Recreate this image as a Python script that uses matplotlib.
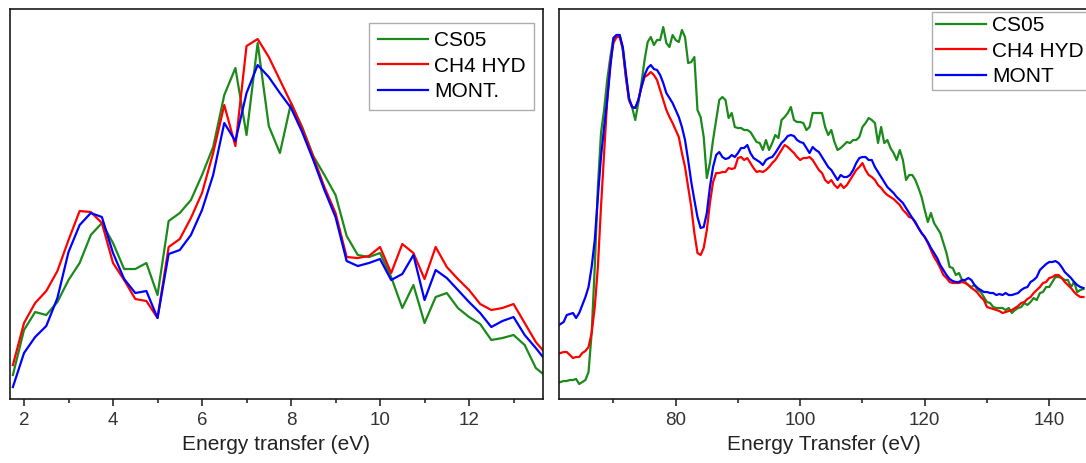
import matplotlib
matplotlib.use('Agg')
import matplotlib.pyplot as plt
import numpy as np
from matplotlib.ticker import MultipleLocator

plt.rcParams['font.family'] = ['Liberation Sans', 'DejaVu Sans']

# ---- left panel: low energy region, 0.25 eV steps ----
e_low = np.arange(1.75, 13.76, 0.25)
cs05_low = [24, 69, 87, 84, 97, 119, 136, 164, 176, 156,
            130, 130, 136, 104, 178, 186, 199, 224, 252, 304,
            331, 264, 356, 273, 246, 296, 272, 243, 224, 204,
            163, 144, 142, 146, 122, 91, 114, 76, 102, 106,
            91, 82, 75, 59, 61, 64, 54, 31, 22]
ch4_low = [34, 76, 96, 108, 128, 159, 188, 187, 176, 136,
           119, 100, 98, 81, 152, 160, 181, 206, 246, 294,
           253, 353, 360, 342, 319, 296, 271, 242, 212, 186,
           142, 141, 143, 152, 126, 155, 146, 120, 152, 132,
           120, 109, 95, 89, 91, 95, 76, 57, 44]
mont_low = [12, 46, 62, 73, 101, 147, 174, 186, 182, 146,
            120, 106, 108, 81, 145, 149, 164, 189, 224, 276,
            258, 306, 334, 322, 306, 291, 267, 239, 209, 182,
            138, 133, 136, 140, 119, 125, 144, 99, 129, 121,
            109, 97, 86, 72, 78, 82, 64, 51, 37]

# ---- right panel: high energy region, 0.5 eV steps ----
e_high = np.arange(61.0, 145.6, 0.5)
cs05_high = [16, 17, 18, 18, 19, 19, 20, 15, 17, 19,
             27, 66, 132, 212, 266, 289, 319, 342, 361, 364,
             364, 349, 322, 299, 292, 279, 296, 316, 339, 357,
             362, 354, 359, 359, 372, 356, 352, 364, 359, 357,
             369, 362, 336, 337, 342, 289, 282, 262, 221, 236,
             259, 279, 299, 302, 299, 281, 286, 272, 271, 271,
             269, 269, 267, 262, 257, 256, 249, 259, 249, 256,
             264, 261, 279, 282, 286, 292, 279, 277, 277, 276,
             269, 272, 286, 286, 286, 286, 272, 264, 269, 257,
             249, 251, 254, 257, 256, 259, 259, 262, 272, 276,
             281, 279, 276, 256, 272, 256, 259, 251, 246, 239,
             249, 239, 219, 224, 224, 219, 211, 202, 189, 177,
             186, 176, 171, 166, 156, 146, 132, 131, 124, 126,
             119, 117, 114, 112, 114, 109, 107, 102, 97, 96,
             92, 91, 91, 91, 89, 91, 86, 89, 91, 92,
             96, 94, 97, 101, 99, 106, 107, 112, 112, 117,
             122, 122, 121, 119, 119, 112, 117, 107, 109, 110]
ch4_high = [45, 46, 47, 47, 44, 41, 42, 42, 46, 48,
            52, 66, 92, 132, 192, 246, 299, 336, 356, 362,
            362, 351, 322, 299, 292, 291, 299, 312, 322, 324,
            327, 324, 319, 309, 299, 289, 282, 276, 269, 262,
            246, 232, 212, 192, 166, 146, 144, 151, 169, 196,
            217, 226, 226, 227, 227, 231, 230, 231, 241, 242,
            239, 241, 236, 231, 227, 228, 227, 229, 232, 236,
            239, 244, 249, 254, 252, 249, 246, 242, 239, 241,
            241, 242, 239, 234, 229, 226, 219, 216, 219, 214,
            211, 215, 211, 214, 219, 224, 229, 232, 236, 229,
            224, 222, 219, 214, 211, 207, 204, 202, 200, 197,
            194, 189, 186, 182, 181, 176, 171, 166, 162, 156,
            149, 142, 137, 131, 124, 121, 117, 116, 116, 116,
            117, 116, 114, 111, 109, 106, 102, 99, 92, 91,
            90, 89, 88, 86, 87, 88, 89, 91, 93, 96,
            97, 100, 102, 106, 109, 112, 116, 117, 121, 122,
            124, 124, 121, 117, 114, 111, 107, 104, 102, 102]
mont_high = [73, 75, 77, 84, 85, 86, 81, 86, 94, 102,
             112, 132, 159, 202, 242, 272, 299, 332, 361, 364,
             364, 352, 326, 301, 292, 291, 299, 312, 324, 331,
             334, 330, 329, 324, 316, 306, 301, 296, 289, 282,
             272, 259, 239, 217, 199, 182, 171, 172, 186, 212,
             232, 244, 247, 242, 240, 241, 244, 242, 246, 251,
             251, 254, 246, 241, 239, 237, 234, 239, 241, 242,
             246, 251, 256, 259, 263, 264, 263, 259, 257, 256,
             251, 246, 252, 249, 247, 242, 237, 232, 229, 224,
             219, 224, 222, 222, 224, 229, 236, 241, 242, 242,
             239, 239, 232, 227, 222, 217, 212, 209, 206, 202,
             199, 196, 191, 186, 181, 177, 171, 166, 162, 157,
             151, 146, 141, 134, 129, 124, 120, 118, 117, 117,
             119, 119, 121, 119, 114, 111, 109, 107, 107, 106,
             106, 104, 105, 104, 106, 104, 104, 105, 106, 109,
             111, 112, 117, 119, 122, 129, 132, 135, 137, 137,
             138, 136, 132, 127, 124, 121, 117, 114, 112, 111]

labels_low = ['CS05', 'CH4 HYD', 'MONT.']
labels_high = ['CS05', 'CH4 HYD', 'MONT']
colors = ['#1b8a1b', '#ff0000', '#0000ff']

fig = plt.figure(figsize=(10.86, 4.63), dpi=100)
ax1 = fig.add_axes([0.00875, 0.1382, 0.4913, 0.8434])
ax2 = fig.add_axes([0.5147, 0.1382, 0.4887, 0.8434])

for ax in (ax1, ax2):
    for sp in ax.spines.values():
        sp.set_linewidth(1.2)
        sp.set_color('#1a1a1a')
    ax.set_yticks([])
    ax.set_ylim(0, 390.5)
    ax.tick_params(axis='x', which='major', direction='out', length=5, width=1.1,
                   labelsize=13.5, labelcolor='#333333', pad=4, color='#1a1a1a')
    ax.tick_params(axis='x', which='minor', direction='out', length=3, width=1.1,
                   color='#1a1a1a')

for ys, c, lab in zip([cs05_low, ch4_low, mont_low], colors, labels_low):
    ax1.plot(e_low, ys, color=c, lw=1.6, label=lab)
ax1.set_xlim(1.674, 13.663)
ax1.xaxis.set_major_locator(MultipleLocator(2))
ax1.xaxis.set_minor_locator(MultipleLocator(1))
ax1.set_xlabel('Energy transfer (eV)', fontsize=15, color='#222222', labelpad=5)
leg1 = ax1.legend(loc='upper right', bbox_to_anchor=(0.983, 0.963), borderaxespad=0,
                  fontsize=15, frameon=True, fancybox=False, handlelength=2.4,
                  handletextpad=0.3, labelspacing=0.31, borderpad=0.4)
leg1.get_frame().set_edgecolor('#999999')
leg1.get_frame().set_linewidth(1.0)

for ys, c, lab in zip([cs05_high, ch4_high, mont_high], colors, labels_high):
    ax2.plot(e_high, ys, color=c, lw=1.6, label=lab)
ax2.set_xlim(61.25, 146.5)
ax2.xaxis.set_major_locator(MultipleLocator(20))
ax2.xaxis.set_minor_locator(MultipleLocator(10))
ax2.set_xlabel('Energy Transfer (eV)', fontsize=15, color='#222222', labelpad=5)
leg2 = ax2.legend(loc='upper left', bbox_to_anchor=(0.703, 0.991), borderaxespad=0,
                  fontsize=15, frameon=True, fancybox=False, handlelength=2.4,
                  handletextpad=0.3, labelspacing=0.31, borderpad=0.2)
leg2.get_frame().set_edgecolor('#999999')
leg2.get_frame().set_linewidth(1.0)

fig.savefig('out.png', dpi=100)
